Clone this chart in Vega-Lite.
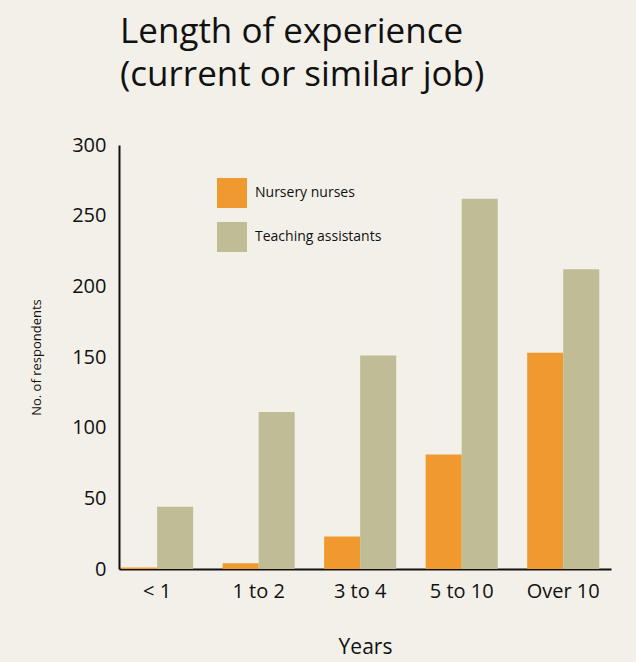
{
  "$schema": "https://vega.github.io/schema/vega-lite/v6.json",
  "autosize": "none",
  "width": 492,
  "height": 424,
  "padding": {"left": 119, "top": 145, "right": 25, "bottom": 93},
  "background": "#f3f0e9",
  "title": {
    "text": ["Length of experience", "(current or similar job)"],
    "anchor": "start",
    "frame": "group",
    "fontSize": 35,
    "lineHeight": 43,
    "font": "Open Sans",
    "fontWeight": "normal",
    "color": "#111111",
    "offset": 42,
    "dx": 1
  },
  "config": {
    "view": {"stroke": null},
    "font": "Open Sans"
  },
  "data": {
    "values": [
      {"years": "< 1", "group": "Nursery nurses", "count": 1},
      {"years": "< 1", "group": "Teaching assistants", "count": 44},
      {"years": "1 to 2", "group": "Nursery nurses", "count": 4},
      {"years": "1 to 2", "group": "Teaching assistants", "count": 111},
      {"years": "3 to 4", "group": "Nursery nurses", "count": 23},
      {"years": "3 to 4", "group": "Teaching assistants", "count": 151},
      {"years": "5 to 10", "group": "Nursery nurses", "count": 81},
      {"years": "5 to 10", "group": "Teaching assistants", "count": 262},
      {"years": "Over 10", "group": "Nursery nurses", "count": 153},
      {"years": "Over 10", "group": "Teaching assistants", "count": 212}
    ]
  },
  "mark": {"type": "bar"},
  "encoding": {
    "x": {
      "field": "years",
      "type": "nominal",
      "sort": ["< 1", "1 to 2", "3 to 4", "5 to 10", "Over 10"],
      "scale": {"paddingInner": 0.29, "paddingOuter": 0.068, "align": 0.15},
      "axis": {
        "title": "Years",
        "titleFontSize": 21,
        "titleFontWeight": "normal",
        "titleColor": "#111111",
        "titlePadding": 35,
        "labelAngle": 0,
        "labelFontSize": 20,
        "labelColor": "#111111",
        "labelPadding": 12,
        "ticks": false,
        "domainColor": "#111111",
        "domainWidth": 2
      }
    },
    "xOffset": {
      "field": "group",
      "type": "nominal",
      "sort": ["Nursery nurses", "Teaching assistants"]
    },
    "y": {
      "field": "count",
      "type": "quantitative",
      "scale": {"domain": [0, 300]},
      "axis": {
        "title": "No. of respondents",
        "titleFontSize": 13,
        "titleFontWeight": "normal",
        "titleColor": "#111111",
        "titlePadding": 28,
        "values": [0, 50, 100, 150, 200, 250, 300],
        "labelFontSize": 20,
        "labelColor": "#111111",
        "labelPadding": 13,
        "ticks": false,
        "grid": false,
        "domainColor": "#111111",
        "domainWidth": 2
      }
    },
    "color": {
      "field": "group",
      "type": "nominal",
      "sort": ["Nursery nurses", "Teaching assistants"],
      "scale": {"range": ["#f0992f", "#bfbc96"]},
      "legend": {
        "title": null,
        "orient": "none",
        "legendX": 98,
        "legendY": 33,
        "symbolType": "square",
        "symbolSize": 900,
        "symbolStrokeWidth": 0,
        "symbolOpacity": 1,
        "rowPadding": 14,
        "labelFontSize": 14,
        "labelColor": "#111111",
        "labelOffset": 8
      }
    }
  }
}
